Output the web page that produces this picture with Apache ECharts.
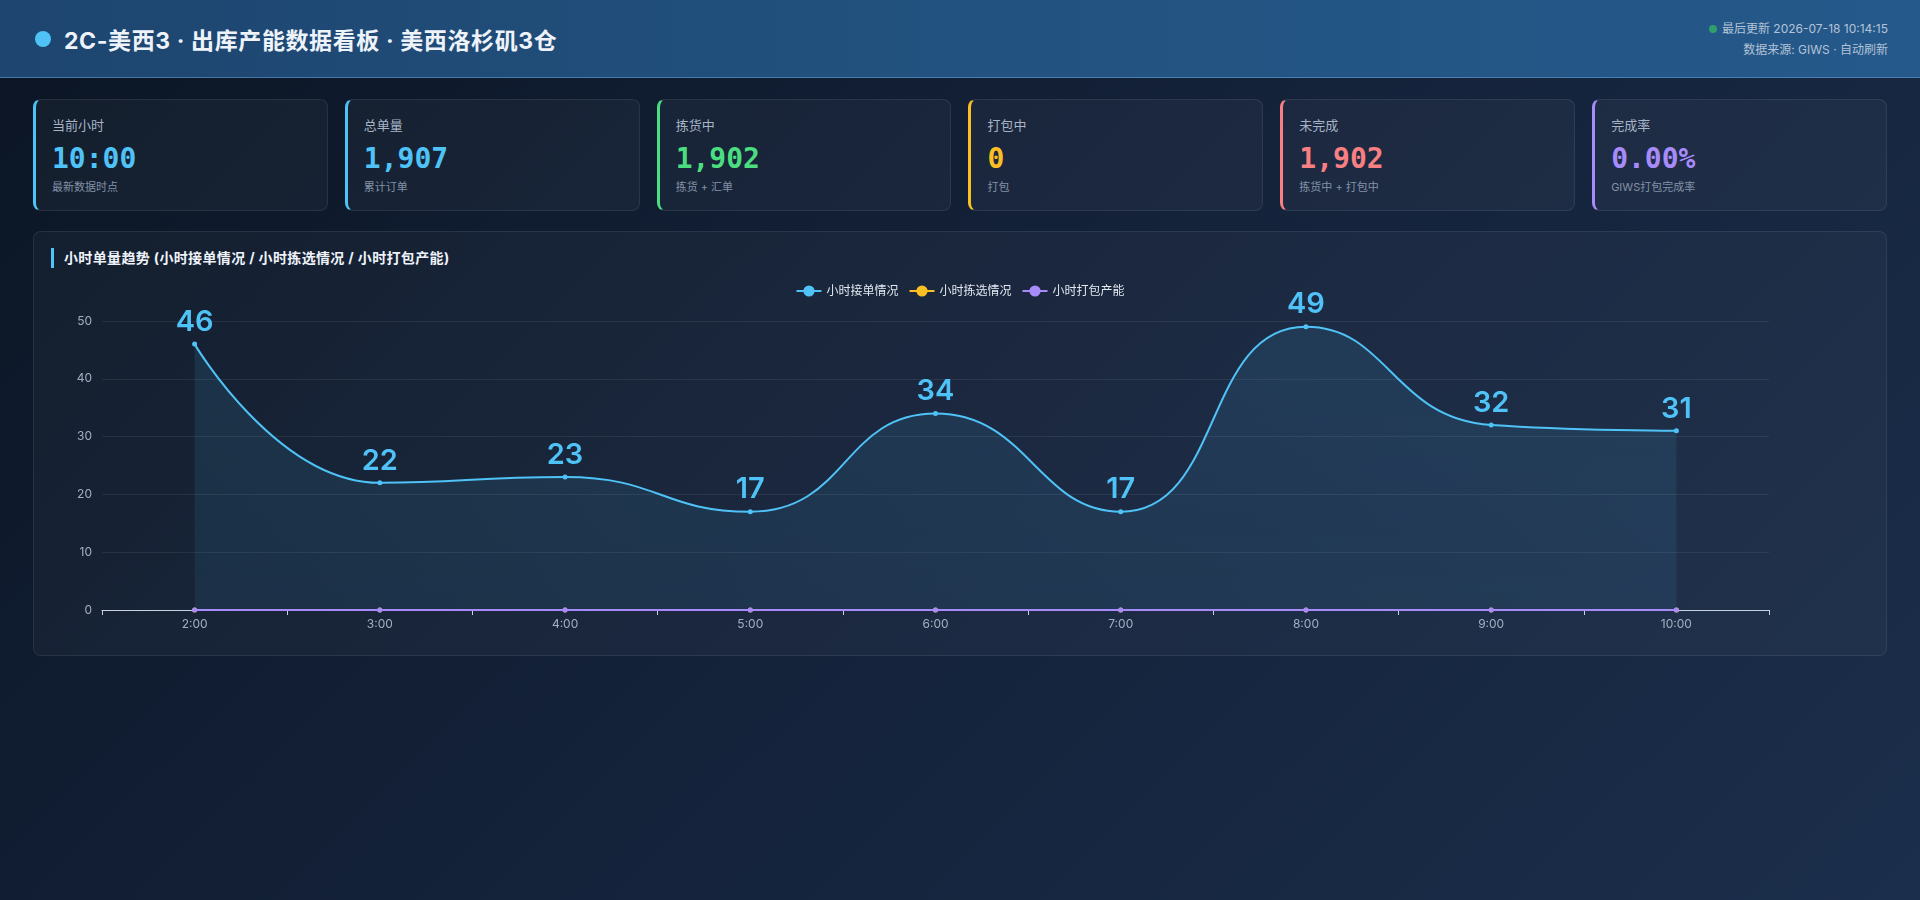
<!DOCTYPE html>
<html lang="zh-CN">
<head>
<meta charset="UTF-8">
<title>2C-美西3 出库产能数据看板</title>
<script src="https://cdn.jsdelivr.net/npm/echarts@6/dist/echarts.min.js"></script>
<style>
  html, body { margin: 0; padding: 0; }
  body {
    width: 1920px; height: 900px; overflow: hidden;
    background: linear-gradient(135deg, #0b1524 0%, #14223a 50%, #1b2e4b 100%);
    font-family: "Inter", "Noto Sans CJK SC", sans-serif;
    color: #e2e8f0;
    position: relative;
  }
  .header {
    position: absolute; left: 0; top: 0; width: 1920px; height: 77px;
    background: linear-gradient(90deg, #1d456f 0%, #22527f 50%, #25598b 100%);
    border-bottom: 1px solid rgba(120, 180, 230, 0.45);
  }
  .title {
    position: absolute; left: 35px; top: 0; height: 77px;
    display: flex; align-items: center;
    font-size: 23px; font-weight: 700; letter-spacing: 0.6px; color: #eef3fa;
  }
  .title .dot {
    width: 16px; height: 16px; border-radius: 50%; background: #4fc3f7;
    margin-right: 13px;
  }
  .info {
    position: absolute; right: 32px; top: 18px; text-align: right;
    font-size: 12px; line-height: 21px; color: #b4c3d6;
  }
  .info .gdot {
    display: inline-block; width: 8px; height: 8px; border-radius: 50%;
    background: #2f9e6a; margin-right: 5px; vertical-align: 0px;
  }
  .cards {
    position: absolute; left: 33px; top: 99px; width: 1854px; height: 112px;
    display: flex; gap: 17px;
  }
  .card {
    flex: 1; box-sizing: border-box; height: 112px;
    background: rgba(255,255,255,0.035);
    border: 1px solid rgba(255,255,255,0.08);
    border-left: 3px solid #4fc3f7;
    border-radius: 8px;
    padding: 16px 16px 0 16px;
  }
  .card .lbl { font-size: 13px; line-height: 18px; color: #a7b4c6; }
  .card .val {
    font-family: "DejaVu Sans Mono", monospace; font-weight: 700;
    font-size: 28px; line-height: 34px; margin-top: 8px;
  }
  .card .sub { font-size: 11px; line-height: 16px; margin-top: 3px; color: #8292a8; }
  .panel {
    position: absolute; left: 33px; top: 231px; width: 1854px; height: 425px;
    box-sizing: border-box;
    background: rgba(255,255,255,0.03);
    border: 1px solid rgba(255,255,255,0.08);
    border-radius: 8px;
  }
  .ptitle {
    position: absolute; left: 17px; top: 16px; height: 20px;
    border-left: 3px solid #4fc3f7; padding-left: 10px;
    font-size: 14px; font-weight: 700; line-height: 20px; color: #eef3fa;
    letter-spacing: 0.35px;
  }
  #chart { position: absolute; left: 0; top: 36px; width: 1852px; height: 387px; }
</style>
</head>
<body>
<div class="header">
  <div class="title"><span class="dot"></span><span id="titleText"></span></div>
  <div class="info">
    <div><span class="gdot"></span><span id="updated"></span></div>
    <div id="source"></div>
  </div>
</div>
<div class="cards" id="cards"></div>
<div class="panel">
  <div class="ptitle" id="chartTitle"></div>
  <div id="chart"></div>
</div>
<script>
// ---- header text ----
const pageTitle = '2C-美西3 · 出库产能数据看板 · 美西洛杉矶3仓';
const updatedText = '最后更新 2026-07-18 10:14:15';
const sourceText = '数据来源: GIWS · 自动刷新';
const chartTitle = '小时单量趋势 (小时接单情况 / 小时拣选情况 / 小时打包产能)';

// ---- KPI cards ----
const kpiLabels = ['当前小时', '总单量', '拣货中', '打包中', '未完成', '完成率'];
const kpiValues = ['10:00', '1,907', '1,902', '0', '1,902', '0.00%'];
const kpiSubs = ['最新数据时点', '累计订单', '拣货 + 汇单', '打包', '拣货中 + 打包中', 'GIWS打包完成率'];
const kpiColors = ['#4fc3f7', '#4fc3f7', '#4ade80', '#fbbf24', '#f87f82', '#a78bfa'];

// ---- chart data ----
const hours = ['2:00', '3:00', '4:00', '5:00', '6:00', '7:00', '8:00', '9:00', '10:00'];
const orderIntake = [46, 22, 23, 17, 34, 17, 49, 32, 31];
const picking = [0, 0, 0, 0, 0, 0, 0, 0, 0];
const packing = [0, 0, 0, 0, 0, 0, 0, 0, 0];
const seriesNames = ['小时接单情况', '小时拣选情况', '小时打包产能'];
const seriesColors = ['#4fc3f7', '#fbbf24', '#a78bfa'];

document.getElementById('titleText').textContent = pageTitle;
document.getElementById('updated').textContent = updatedText;
document.getElementById('source').textContent = sourceText;
document.getElementById('chartTitle').textContent = chartTitle;

const cardsEl = document.getElementById('cards');
kpiLabels.forEach((l, i) => {
  const c = document.createElement('div');
  c.className = 'card';
  c.style.borderLeftColor = kpiColors[i];
  c.innerHTML = '<div class="lbl"></div><div class="val"></div><div class="sub"></div>';
  c.querySelector('.lbl').textContent = l;
  const v = c.querySelector('.val');
  v.textContent = kpiValues[i];
  v.style.color = kpiColors[i];
  c.querySelector('.sub').textContent = kpiSubs[i];
  cardsEl.appendChild(c);
});

const chart = echarts.init(document.getElementById('chart'));
const seriesData = [orderIntake, picking, packing];
chart.setOption({
  backgroundColor: 'transparent',
  textStyle: { fontFamily: 'Inter, "Noto Sans CJK SC", sans-serif' },
  legend: {
    top: 12, left: 'center',
    itemWidth: 25, itemHeight: 14, itemGap: 10,
    textStyle: { color: '#e2e8f0', fontSize: 12 },
    data: seriesNames
  },
  grid: { left: 68, right: 117, top: 53, bottom: 45 },
  xAxis: {
    type: 'category', data: hours, boundaryGap: true,
    axisLine: { lineStyle: { color: '#c9d1df', width: 1 } },
    axisTick: { show: true, lineStyle: { color: '#c9d1df' } },
    axisLabel: { color: '#a3b0c2', fontSize: 12, margin: 8 }
  },
  yAxis: {
    type: 'value', min: 0, max: 50, interval: 10,
    axisLine: { show: false }, axisTick: { show: false },
    axisLabel: { color: '#a3b0c2', fontSize: 12, margin: 10 },
    splitLine: { lineStyle: { color: 'rgba(255,255,255,0.07)' } }
  },
  series: seriesNames.map((name, i) => {
    const s = {
      name, type: 'line', smooth: true,
      data: seriesData[i],
      symbol: 'circle', symbolSize: 5,
      itemStyle: { color: seriesColors[i] },
      lineStyle: { color: seriesColors[i], width: 2 },
      z: 2 + i
    };
    if (i === 0) {
      s.areaStyle = {
        color: new echarts.graphic.LinearGradient(0, 0, 0, 1, [
          { offset: 0, color: 'rgba(79,195,247,0.16)' },
          { offset: 1, color: 'rgba(79,195,247,0.12)' }
        ])
      };
      s.label = {
        show: true, position: 'top', distance: 5,
        color: '#4fc3f7', fontSize: 29, fontWeight: 600,
        fontFamily: 'Inter, sans-serif'
      };
    }
    return s;
  })
});
</script>
</body>
</html>
